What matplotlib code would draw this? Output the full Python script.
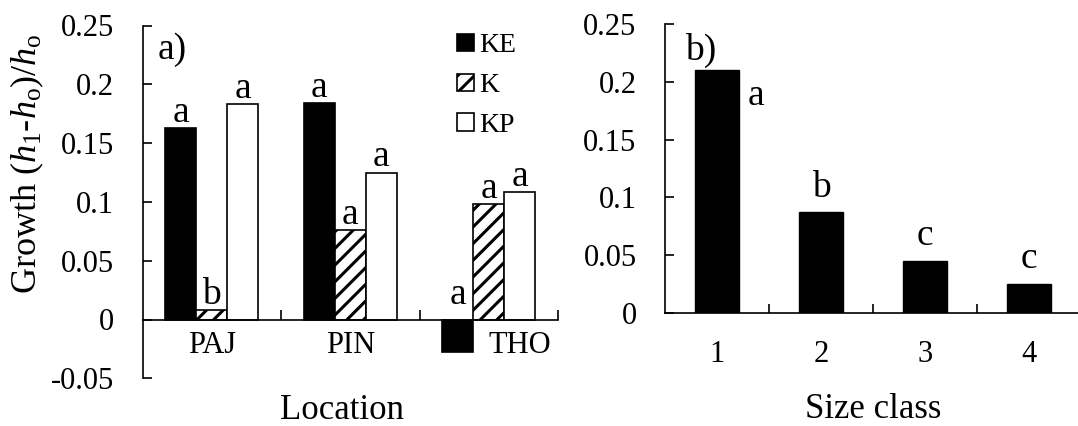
import matplotlib
matplotlib.use("Agg")
import matplotlib.pyplot as plt
import numpy as np
from matplotlib.ticker import FuncFormatter

# ---------------- data ----------------
locations = ["PAJ", "PIN", "THO"]
treatments = ["KE", "K", "KP"]
growth_KE = [0.163, 0.184, -0.028]
growth_K = [0.008, 0.076, 0.098]
growth_KP = [0.183, 0.125, 0.108]
letters_KE = ["a", "a", "a"]
letters_K = ["b", "a", "a"]
letters_KP = ["a", "a", "a"]

size_classes = ["1", "2", "3", "4"]
growth_size = [0.210, 0.087, 0.045, 0.025]
letters_size = ["a", "b", "c", "c"]

yticks_a = [-0.05, 0, 0.05, 0.1, 0.15, 0.2, 0.25]
yticks_b = [0, 0.05, 0.1, 0.15, 0.2, 0.25]

# ---------------- style ----------------
plt.rcParams.update({
    "font.family": ["Liberation Serif", "DejaVu Serif"],
    "mathtext.fontset": "custom",
    "mathtext.rm": "Liberation Serif",
    "mathtext.it": "Liberation Serif:italic",
    "mathtext.bf": "Liberation Serif:bold",
    "axes.unicode_minus": False,
    "hatch.linewidth": 2.2,
    "hatch.color": "black",
})

TICK_FS = 22
ANN_FS = 27
W, H = 1078, 426
fig = plt.figure(figsize=(W / 100, H / 100), dpi=100)
axA = fig.add_axes([142.5 / W, 1 - 378.3 / H, 415.5 / W, 352.8 / H])
axB = fig.add_axes([665 / W, 1 - 312.5 / H, 416 / W, 288.2 / H])

fmt = FuncFormatter(lambda v, p: f"{v:g}")
for ax in (axA, axB):
    for s in ("top", "right"):
        ax.spines[s].set_visible(False)
    for s in ("left", "bottom"):
        ax.spines[s].set_linewidth(1.2)
    ax.tick_params(axis="y", direction="in", length=6.5, width=1.2,
                   labelsize=TICK_FS, pad=20.5)
    ax.yaxis.set_major_formatter(fmt)

# ---------------- panel a ----------------
x = np.arange(len(locations))
w = 0.224
axA.bar(x - w, growth_KE, w, color="black", edgecolor="black", lw=1.2,
        label=treatments[0])
axA.bar(x, growth_K, w, facecolor="white", edgecolor="black", hatch="//",
        lw=1.2, label=treatments[1])
axA.bar(x + w, growth_KP, w, facecolor="white", edgecolor="black",
        lw=1.2, label=treatments[2])
axA.set_xlim(-0.5, len(locations) - 0.5)
axA.set_ylim(yticks_a[0], yticks_a[-1])
axA.set_yticks(yticks_a)
axA.spines["bottom"].set_position(("data", 0))
axA.set_xticks(x, locations)
axA.set_xticks(np.arange(0.5, len(locations)), minor=True)
axA.tick_params(axis="x", which="major", length=0, labelsize=TICK_FS, pad=8.5)
axA.tick_params(axis="x", which="minor", direction="in", length=7, width=1.2)
# label next to a negative bar starts right of the bar
for lab, v in zip(axA.get_xticklabels(), growth_KE):
    if v < 0:
        lab.set_horizontalalignment("left")

for offs, vals, letters in ((-w, growth_KE, letters_KE),
                            (0, growth_K, letters_K),
                            (w, growth_KP, letters_KP)):
    for xi, v, t in zip(x + offs, vals, letters):
        axA.annotate(t, xy=(xi, max(v, 0)),
                     xytext=(0, 4.5 if v >= 0 else 11),
                     textcoords="offset points", ha="center", va="baseline",
                     fontsize=ANN_FS)

axA.text(0.0356, 0.905, "a)", transform=axA.transAxes, fontsize=27,
         ha="left", va="baseline")
axA.set_ylabel(r"Growth ($h_1$-$h_\mathrm{o}$)/$h_\mathrm{o}$", fontsize=26,
               va="center", ha="center")
axA.yaxis.set_label_coords(-0.278, 0.607)
axA.set_xlabel("Location", fontsize=25, va="center")
axA.xaxis.set_label_coords(0.48, -0.09)
axA.legend(loc="upper left", bbox_to_anchor=(0.758, 0.978), frameon=False,
           fontsize=20, handlelength=0.58, handleheight=0.58,
           handletextpad=0.22, labelspacing=0.53, borderpad=0,
           borderaxespad=0)

# ---------------- panel b ----------------
xb = np.arange(1, len(size_classes) + 1)
wb = 0.425
axB.bar(xb, growth_size, wb, color="black", edgecolor="black", lw=1.0)
axB.set_xlim(0.5, len(size_classes) + 0.5)
axB.set_ylim(yticks_b[0], yticks_b[-1])
axB.set_yticks(yticks_b)
axB.set_xticks(xb, size_classes)
axB.set_xticks(np.arange(1.5, len(size_classes) + 0.6), minor=True)
axB.tick_params(axis="x", which="major", length=0, labelsize=TICK_FS, pad=19.5)
axB.tick_params(axis="x", which="minor", direction="in", length=6.5, width=1.2)

for i, (xi, v, t) in enumerate(zip(xb, growth_size, letters_size)):
    if i == 0:
        # first letter sits beside the bar (room taken by the panel tag)
        axB.annotate(t, xy=(xi + wb / 2, v), xytext=(6, -25),
                     textcoords="offset points", ha="left", va="baseline",
                     fontsize=ANN_FS)
    else:
        axB.annotate(t, xy=(xi, v), xytext=(0, 11),
                     textcoords="offset points", ha="center", va="baseline",
                     fontsize=ANN_FS)

axB.text(0.048, 0.878, "b)", transform=axB.transAxes, fontsize=27,
         ha="left", va="baseline")
axB.set_xlabel("Size class", fontsize=25, va="center")
axB.xaxis.set_label_coords(0.5, -0.338)

fig.savefig("out.png", dpi=100)
